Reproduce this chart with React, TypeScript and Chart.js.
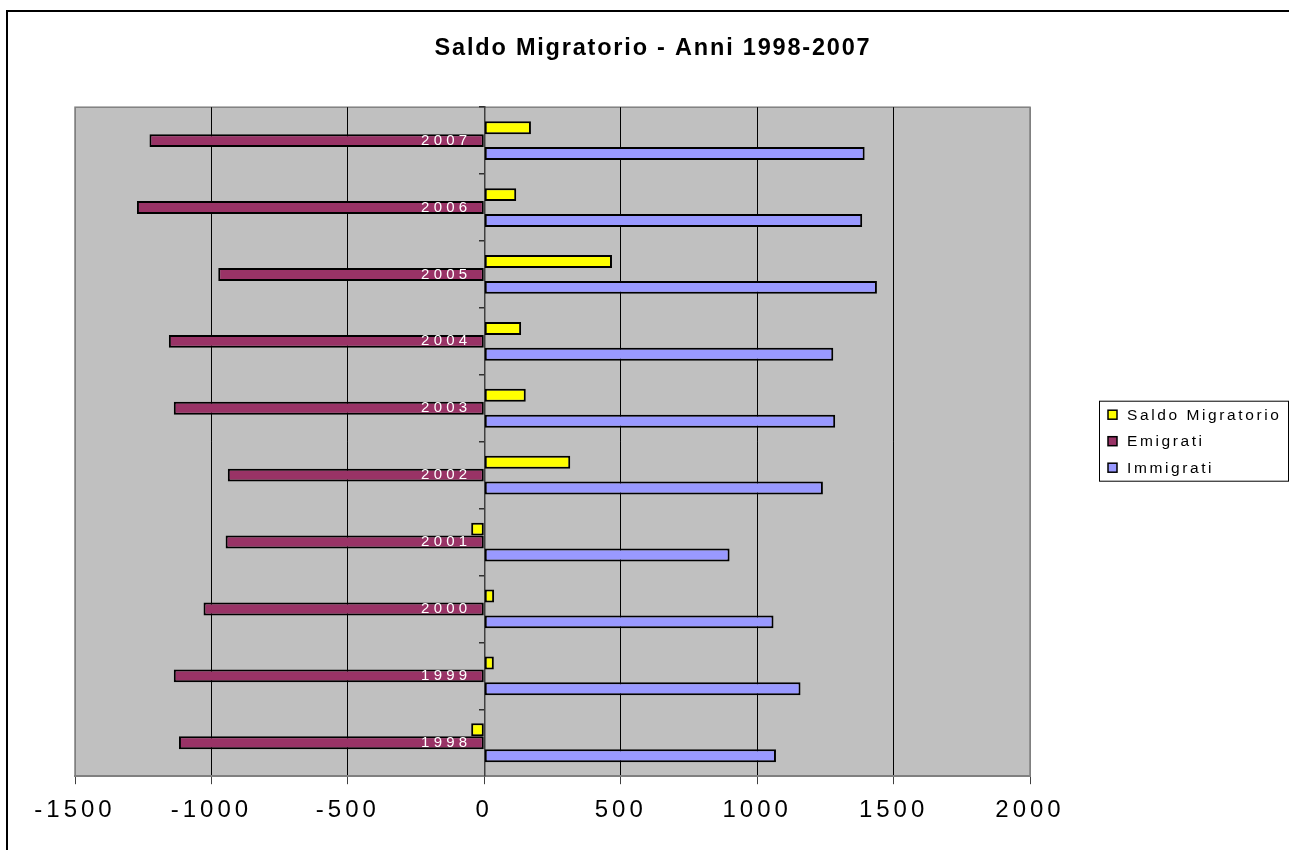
import React, { useEffect, useRef } from 'react';
import { Chart, registerables, layouts } from 'chart.js';

Chart.register(...registerables);

// ---- Data (bottom category first: 1998 -> 2007) ----
const years = ['1998', '1999', '2000', '2001', '2002', '2003', '2004', '2005', '2006', '2007'];
const saldoMigratorio = [-48, 35, 36, -48, 315, 152, 135, 468, 117, 171];
const emigrati = [-1119, -1138, -1029, -948, -940, -1138, -1156, -975, -1273, -1227];
const immigrati = [1069, 1159, 1060, 899, 1241, 1286, 1279, 1439, 1385, 1394];
const xTickValues = [-1500, -1000, -500, 0, 500, 1000, 1500, 2000];
const seriesNames = ['Saldo Migratorio', 'Emigrati', 'Immigrati'];
const seriesColors = ['#FFFF00', '#993366', '#9999FF'];
const chartTitle = 'Saldo Migratorio - Anni 1998-2007';

const FONT = '"Liberation Sans", Arial, Helvetica, sans-serif';
const AXIS_SPACING = '4px';
const TITLE_SPACING = '1.8px';
const LEGEND_SPACING = '2.6px';
const YEAR_SPACING = '4.2px';

const spacingPlugin = {
  id: 'letterSpacing',
  beforeUpdate(chart: any) {
    chart.ctx.letterSpacing = AXIS_SPACING;
    const tb = chart.titleBlock;
    if (tb && !tb.__wrapped) {
      const orig = tb.draw.bind(tb);
      tb.draw = (...args: any[]) => {
        const ctx = chart.ctx;
        const prev = ctx.letterSpacing;
        ctx.letterSpacing = TITLE_SPACING;
        orig(...args);
        ctx.letterSpacing = prev;
      };
      tb.__wrapped = true;
    }
  },
  beforeLayout(chart: any) {
    chart.ctx.letterSpacing = AXIS_SPACING;
  },
  beforeDraw(chart: any) {
    chart.ctx.letterSpacing = AXIS_SPACING;
  },
};

const plotAreaPlugin = {
  id: 'plotArea',
  beforeDraw(chart: any) {
    const { ctx, chartArea } = chart;
    if (!chartArea) return;
    ctx.save();
    ctx.fillStyle = '#C0C0C0';
    ctx.fillRect(chartArea.left, chartArea.top, chartArea.right - chartArea.left, chartArea.bottom - chartArea.top);
    ctx.strokeStyle = '#808080';
    ctx.lineWidth = 1.5;
    ctx.strokeRect(chartArea.left, chartArea.top, chartArea.right - chartArea.left, chartArea.bottom - chartArea.top);
    ctx.restore();
  },
};

const yearLabelPlugin = {
  id: 'yearLabels',
  afterDatasetsDraw(chart: any) {
    const { ctx, scales } = chart;
    const xs = scales.x;
    const ys = scales.y;
    const labels = chart.data.labels as string[];
    ctx.save();
    ctx.letterSpacing = YEAR_SPACING;
    ctx.fillStyle = '#FFFFFF';
    ctx.font = `15px ${FONT}`;
    ctx.textAlign = 'right';
    ctx.textBaseline = 'middle';
    const x0 = xs.getPixelForValue(0) - 13;
    labels.forEach((lab, i) => {
      ctx.fillText(lab, x0, ys.getPixelForValue(i));
    });
    ctx.restore();
  },
};

const legendBoxPlugin = {
  id: 'xlLegend',
  beforeInit(chart: any) {
    const box: any = {
      position: 'right',
      weight: 0,
      fullSize: false,
      options: { stackWeight: 1 },
      top: 0, left: 0, right: 0, bottom: 0, width: 0, height: 0,
      update(maxWidth: number, maxHeight: number) {
        box.width = 201;
        box.height = maxHeight;
      },
      isHorizontal() {
        return false;
      },
      draw() {
        const ctx = chart.ctx;
        const left = box.left + 69;
        const right = chart.width - 1;
        const cy = (box.top + box.bottom) / 2;
        const top = cy - 41;
        const h = 80;
        ctx.save();
        ctx.letterSpacing = LEGEND_SPACING;
        ctx.fillStyle = '#FFFFFF';
        ctx.fillRect(left, top, right - left, h);
        ctx.strokeStyle = '#000000';
        ctx.lineWidth = 1;
        ctx.strokeRect(left + 0.5, top + 0.5, right - left, h);
        const datasets = chart.data.datasets;
        ctx.font = `15.5px ${FONT}`;
        ctx.textBaseline = 'middle';
        ctx.textAlign = 'left';
        datasets.forEach((ds: any, i: number) => {
          const iy = top + 14 + i * 26.5;
          ctx.fillStyle = ds.backgroundColor;
          ctx.fillRect(left + 9, iy - 4.5, 9, 9);
          ctx.strokeStyle = '#000';
          ctx.lineWidth = 1.5;
          ctx.strokeRect(left + 9, iy - 4.5, 9, 9);
          ctx.fillStyle = '#000';
          ctx.fillText(ds.label, left + 28, iy + 1);
        });
        ctx.restore();
      },
    };
    layouts.addBox(chart, box);
  },
};

export default function App() {
  const canvasRef = useRef<HTMLCanvasElement | null>(null);

  useEffect(() => {
    const canvas = canvasRef.current;
    if (!canvas) return;
    const seriesData = [saldoMigratorio, emigrati, immigrati];
    const chart = new Chart(canvas, {
      type: 'bar',
      data: {
        labels: years,
        datasets: seriesNames.map((name, i) => ({
          label: name,
          data: seriesData[i],
          backgroundColor: seriesColors[i],
          borderColor: '#000000',
          borderWidth: 2,
          borderSkipped: false,
          barPercentage: 1,
          categoryPercentage: 0.58,
        })),
      },
      options: {
        indexAxis: 'y',
        animation: false,
        responsive: false,
        devicePixelRatio: 1,
        layout: { padding: { left: 75, right: 58, top: 0, bottom: 13 } },
        plugins: {
          legend: { display: false },
          tooltip: { enabled: false },
          title: {
            display: true,
            text: chartTitle,
            color: '#000000',
            font: { family: FONT, size: 23.5, weight: 'bold', lineHeight: 1.2 },
            padding: { top: 34, bottom: 45 },
          },
        },
        scales: {
          x: {
            type: 'linear',
            min: xTickValues[0],
            max: xTickValues[xTickValues.length - 1],
            afterBuildTicks(scale: any) {
              scale.ticks = xTickValues.map((v) => ({ value: v }));
            },
            ticks: {
              color: '#000000',
              font: { family: FONT, size: 24 },
              padding: 12,
              maxRotation: 0,
              autoSkip: false,
              callback: (v: any) => String(v),
            },
            grid: {
              color: (ctx: any) =>
                ctx.tick && (ctx.tick.value === xTickValues[0] || ctx.tick.value === xTickValues[xTickValues.length - 1])
                  ? '#808080'
                  : '#000000',
              lineWidth: 1,
              tickLength: 8,
              tickColor: '#404040',
            },
            border: { color: '#808080', width: 2 },
          },
          y: {
            type: 'category',
            reverse: true,
            position: { x: 0 } as any,
            offset: true,
            ticks: { display: false },
            grid: {
              drawOnChartArea: false,
              offset: true,
              tickLength: 5,
              tickColor: '#303030',
              color: '#303030',
              lineWidth: 1.5,
            },
            border: { color: '#404040', width: 1.5, z: 0 },
          },
        },
      },
      plugins: [spacingPlugin, plotAreaPlugin, yearLabelPlugin, legendBoxPlugin],
    } as any);
    return () => chart.destroy();
  }, []);

  return (
    <div style={{ position: 'fixed', left: 0, top: 0, width: 1289, height: 850, overflow: 'hidden', background: '#fff' }}>
      <div
        style={{
          position: 'absolute',
          left: 6,
          top: 10,
          width: 1283,
          height: 840,
          boxSizing: 'border-box',
          borderLeft: '2px solid #000',
          borderTop: '2px solid #000',
        }}
      />
      <canvas
        ref={canvasRef}
        width={1289}
        height={850}
        style={{ position: 'absolute', left: 0, top: 0, width: 1289, height: 850 }}
      />
    </div>
  );
}
